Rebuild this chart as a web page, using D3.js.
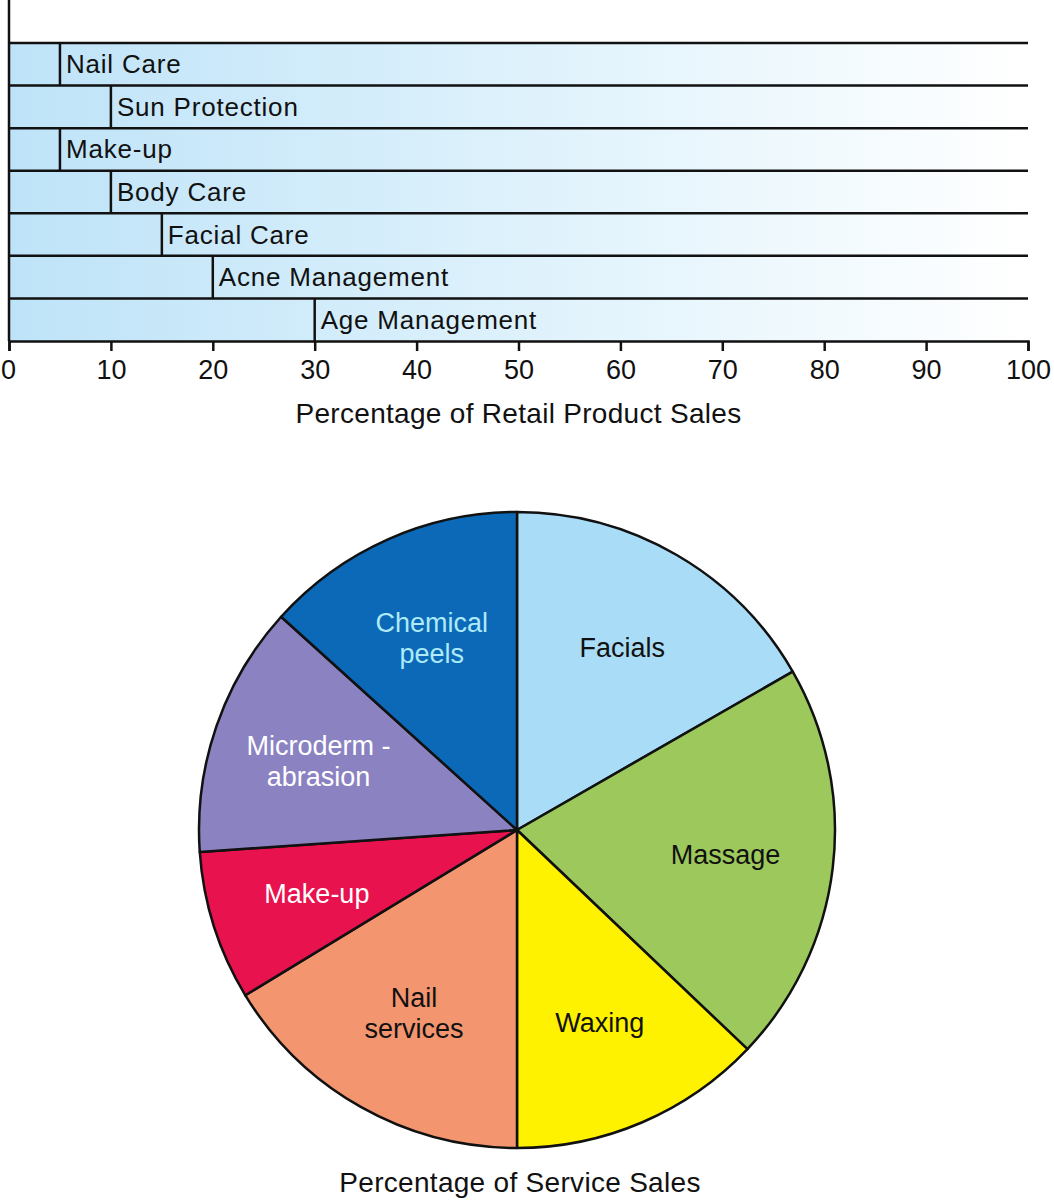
<!DOCTYPE html>
<html>
<head>
<meta charset="utf-8">
<script src="https://cdn.jsdelivr.net/npm/d3@7"></script>
<style>
html,body{margin:0;padding:0;background:#fff;}
svg{display:block;font-family:"Liberation Sans",Arial,sans-serif;}
</style>
</head>
<body>
<svg id="chart" width="1054" height="1200"></svg>
<script>
// ---- data ----
const retailCategories = ["Nail Care","Sun Protection","Make-up","Body Care","Facial Care","Acne Management","Age Management"];
const retailValues = [5,10,5,10,15,20,30];
const retailTicks = [0,10,20,30,40,50,60,70,80,90,100];
const retailTitle = "Percentage of Retail Product Sales";

const serviceCategories = ["Facials","Massage","Waxing","Nail services","Make-up","Microderm-abrasion","Chemical peels"];
const serviceValues = [16.7,20.4,12.9,16.3,7.6,12.8,13.3];
const serviceLabelLines = [["Facials"],["Massage"],["Waxing"],["Nail","services"],["Make-up"],["Microderm -","abrasion"],["Chemical","peels"]];
const serviceColors = ["#a9dcf6","#9dc85b","#fff200","#f3956f","#e8124f","#8b82c2","#0b69b7"];
const serviceTextColors = ["#111","#111","#111","#111","#fff","#fff","#aeeaf8"];
const serviceTitle = "Percentage of Service Sales";

// ---- bar chart ----
const svg = d3.select("#chart");
const defs = svg.append("defs");
const grad = defs.append("linearGradient").attr("id","rowGrad").attr("x1","0%").attr("x2","100%").attr("y1","0%").attr("y2","0%");
grad.append("stop").attr("offset","0%").attr("stop-color","#bee3f8");
grad.append("stop").attr("offset","55%").attr("stop-color","#e1f3fc");
grad.append("stop").attr("offset","100%").attr("stop-color","#ffffff");

const x = d3.scaleLinear().domain([0,100]).range([9,1028]);
const y = d3.scaleBand().domain(retailCategories).range([43,341]).padding(0);

const bars = svg.append("g");
const rows = bars.selectAll("g.row").data(retailCategories.map((c,i)=>({c,v:retailValues[i]}))).join("g").attr("class","row");
rows.append("rect")
  .attr("x", x(0)).attr("width", x(100)-x(0))
  .attr("y", d=>y(d.c)).attr("height", y.bandwidth())
  .attr("fill","url(#rowGrad)");
rows.append("line")
  .attr("x1", x(0)).attr("x2", x(100))
  .attr("y1", d=>y(d.c)).attr("y2", d=>y(d.c))
  .attr("stroke","#111").attr("stroke-width",2.5);
rows.append("line")
  .attr("x1", d=>x(d.v)).attr("x2", d=>x(d.v))
  .attr("y1", d=>y(d.c)).attr("y2", d=>y(d.c)+y.bandwidth())
  .attr("stroke","#111").attr("stroke-width",2.5);
rows.append("text")
  .attr("x", d=>x(d.v)+6)
  .attr("y", d=>y(d.c)+y.bandwidth()/2+9)
  .attr("font-size",26).attr("letter-spacing",0.8).attr("fill","#111")
  .text(d=>d.c);

// left vertical line
bars.append("line").attr("x1",x(0)).attr("x2",x(0)).attr("y1",0).attr("y2",341)
  .attr("stroke","#111").attr("stroke-width",2.5);

// x axis
const xAxis = d3.axisBottom(x).tickValues(retailTicks).tickSize(10).tickPadding(9).tickFormat(d3.format("d"));
const ax = svg.append("g").attr("transform","translate(0,341)").call(xAxis);
ax.select(".domain").attr("stroke","#111").attr("stroke-width",2.5);
ax.selectAll(".tick line").attr("stroke","#111").attr("stroke-width",2.5);
ax.selectAll(".tick text").attr("font-size",27).attr("fill","#111").attr("font-family","Liberation Sans, Arial, sans-serif");
ax.selectAll(".tick").filter(d=>d===0).select("text").attr("dx",-1);

svg.append("text").attr("x",(x(0)+x(100))/2).attr("y",423).attr("text-anchor","middle")
  .attr("font-size",28).attr("letter-spacing",0.3).attr("fill","#111").text(retailTitle);

// ---- pie chart ----
const cx = 517, cy = 830, R = 318;
const pie = d3.pie().sort(null).startAngle(0).endAngle(2*Math.PI);
const arcs = pie(serviceValues);
const arc = d3.arc().innerRadius(0).outerRadius(R);
const labelArc = d3.arc().innerRadius(210).outerRadius(210);

const pg = svg.append("g").attr("transform",`translate(${cx},${cy})`);
pg.selectAll("path").data(arcs).join("path")
  .attr("d", arc)
  .attr("fill", (d,i)=>serviceColors[i])
  .attr("stroke","#111").attr("stroke-width",2.5).attr("stroke-linejoin","round");

const lbl = pg.selectAll("text.lbl").data(arcs).join("text").attr("class","lbl")
  .attr("text-anchor","middle").attr("font-size",27)
  .attr("fill",(d,i)=>serviceTextColors[i])
  .attr("transform", d=>{const [a,b]=labelArc.centroid(d); return `translate(${a},${b})`;});
lbl.each(function(d,i){
  const lines = serviceLabelLines[i];
  const n = lines.length, lh = 31;
  d3.select(this).selectAll("tspan").data(lines).join("tspan")
    .attr("x",0).attr("y",(l,j)=> (j-(n-1)/2)*lh + 9).text(l=>l);
});

svg.append("text").attr("x",cx+3).attr("y",1192).attr("text-anchor","middle")
  .attr("font-size",28).attr("letter-spacing",0.3).attr("fill","#111").text(serviceTitle);
</script>
</body>
</html>
